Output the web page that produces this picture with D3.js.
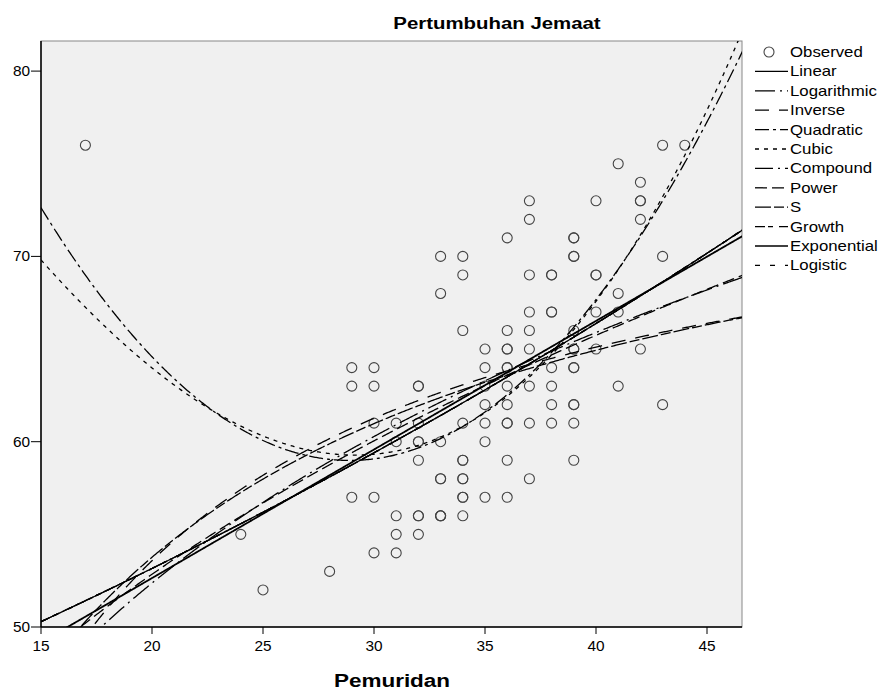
<!DOCTYPE html>
<html>
<head>
<meta charset="utf-8">
<script src="https://cdn.jsdelivr.net/npm/d3@7"></script>
<style>
  body { margin: 0; background: #fff; }
  text { font-family: "Liberation Sans", Arial, sans-serif; fill: #000; }
</style>
</head>
<body>
<svg id="chart" width="879" height="693"></svg>
<script>
// observed cases, grouped by Pemuridan value
var pemuridan = [17, 24, 25, 28,
  29,29,29, 30,30,30,30,30, 31,31,31,31,31,
  32,32,32,32,32,32,32,32,32, 33,33,33,33,33,33,33,33,
  34,34,34,34,34,34,34,34,34,34,34, 35,35,35,35,35,35,35,
  36,36,36,36,36,36,36,36,36,36,36,36, 37,37,37,37,37,37,37,37,37,
  38,38,38,38,38,38,38,38, 39,39,39,39,39,39,39,39,39,39,39,39,39,
  40,40,40,40,40, 41,41,41,41, 42,42,42,42,42, 43,43,43, 44];
var jemaat = [76, 55, 52, 53,
  64,63,57, 64,63,61,57,54, 61,60,56,55,54,
  63,63,61,60,60,59,56,56,55, 70,68,60,58,58,56,56,56,
  70,69,66,61,59,59,58,58,57,57,56, 65,64,63,62,61,60,57,
  71,66,65,65,64,64,63,62,61,61,59,57, 73,72,69,67,66,65,63,61,58,
  69,69,67,67,64,63,62,61, 71,71,70,70,66,65,65,64,64,62,62,61,59,
  73,69,69,67,65, 75,68,67,63, 74,73,73,72,65, 76,70,62, 76];

var xTicks = [15, 20, 25, 30, 35, 40, 45];
var yTicks = [50, 60, 70, 80];
var legendNames = ["Linear", "Logarithmic", "Inverse", "Quadratic", "Cubic", "Compound",
  "Power", "S", "Growth", "Exponential", "Logistic"];

// model coefficients (curve estimation)
var linearCoef = [38.7611, 0.693908];
var logCoef = [-6.07292, 19.50847];
var inverseCoef = [76.63238, -461.0982];
var quadCoef = [117.93009, -4.078036, 0.0705378];
var cubicCoef = [94.82198, -1.828946, 0, 0.000717416];  // x^2 term dropped
var expCoef = [3.751202, 0.01110437];   // ln y = b0 + b1 x  (compound, growth, exponential, logistic)
var powerCoef = [3.023858, 0.3149608];  // ln y = b0 + b1 ln x
var sCoef = [4.362197, -7.551710];      // ln y = b0 + b1 / x

function expModel(x) { return Math.exp(expCoef[0] + expCoef[1] * x); }

var curveFns = [
  function(x) { return linearCoef[0] + linearCoef[1] * x; },
  function(x) { return logCoef[0] + logCoef[1] * Math.log(x); },
  function(x) { return inverseCoef[0] + inverseCoef[1] / x; },
  function(x) { return quadCoef[0] + quadCoef[1] * x + quadCoef[2] * x * x; },
  function(x) { return cubicCoef[0] + cubicCoef[1] * x + cubicCoef[2] * x * x + cubicCoef[3] * x * x * x; },
  expModel,
  function(x) { return Math.exp(powerCoef[0] + powerCoef[1] * Math.log(x)); },
  function(x) { return Math.exp(sCoef[0] + sCoef[1] / x); },
  expModel,
  expModel,
  expModel
];
var dashes = ["", "20,5,2,5", "14,10", "14,4,3,4", "4,5", "18,5,2,5", "12,5", "16,3,10,3", "10,3,5,6", "", "5,10"];

var svg = d3.select('#chart');
var pLeft = 41, pRight = 742, pTop = 41, pBottom = 627;

var x = d3.scaleLinear().domain([15, 15 + (pRight - pLeft) / 22.2]).range([pLeft, pRight]);
var y = d3.scaleLinear().domain([50, 50 + (pBottom - pTop) / 18.53]).range([pBottom, pTop]);

svg.append('defs').append('clipPath').attr('id', 'plotclip')
  .append('rect').attr('x', pLeft).attr('y', pTop).attr('width', pRight - pLeft).attr('height', pBottom - pTop);

svg.append('rect').attr('x', pLeft).attr('y', pTop).attr('width', pRight - pLeft).attr('height', pBottom - pTop)
  .attr('fill', '#f0f0f0').attr('stroke', '#888').attr('stroke-width', 1);

// points
svg.append('g').selectAll('circle').data(pemuridan).enter().append('circle')
  .attr('cx', function(d) { return x(d); })
  .attr('cy', function(d, i) { return y(jemaat[i]); })
  .attr('r', 5)
  .attr('fill', 'none').attr('stroke', '#444').attr('stroke-width', 1.1);

// fit lines
var xs = d3.range(15, x.domain()[1] + 0.05, 0.05);
var line = d3.line().x(function(d) { return x(d[0]); }).y(function(d) { return y(d[1]); });
var curves = svg.append('g').attr('clip-path', 'url(#plotclip)');
curveFns.forEach(function(fn, i) {
  curves.append('path')
    .attr('d', line(xs.map(function(v) { return [v, fn(v)]; })))
    .attr('fill', 'none').attr('stroke', '#000')
    .attr('stroke-width', i === 0 ? 1.8 : 1.3)
    .attr('stroke-dasharray', dashes[i] || null);
});

// axes
svg.append('line').attr('x1', pLeft).attr('x2', pLeft).attr('y1', pTop).attr('y2', pBottom).attr('stroke', '#000').attr('stroke-width', 1.5);
svg.append('line').attr('x1', pLeft).attr('x2', pRight).attr('y1', pBottom).attr('y2', pBottom).attr('stroke', '#000').attr('stroke-width', 1.5);

xTicks.forEach(function(t) {
  svg.append('line').attr('x1', x(t)).attr('x2', x(t)).attr('y1', pBottom).attr('y2', pBottom + 7).attr('stroke', '#000');
  svg.append('text').attr('text-anchor', 'middle').attr('font-size', 14)
    .attr('transform', 'translate(' + x(t) + ',' + (pBottom + 24) + ') scale(1.1,1)').text(t);
});
yTicks.forEach(function(t) {
  svg.append('line').attr('x1', pLeft - 10).attr('x2', pLeft).attr('y1', y(t)).attr('y2', y(t)).attr('stroke', '#000');
  svg.append('text').attr('text-anchor', 'end').attr('font-size', 14)
    .attr('transform', 'translate(' + (pLeft - 11) + ',' + (y(t) + 5) + ') scale(1.1,1)').text(t);
});

svg.append('text').attr('text-anchor', 'middle').attr('font-size', 17).attr('font-weight', 'bold')
  .attr('transform', 'translate(497,29) scale(1.2,1)').text('Pertumbuhan Jemaat');
svg.append('text').attr('text-anchor', 'middle').attr('font-size', 18).attr('font-weight', 'bold')
  .attr('transform', 'translate(392,687) scale(1.25,1)').text('Pemuridan');

// legend
var leg = svg.append('g');
leg.append('circle').attr('cx', 769).attr('cy', 52).attr('r', 5).attr('fill', 'none').attr('stroke', '#444').attr('stroke-width', 1.1);
leg.append('text').attr('font-size', 14).attr('transform', 'translate(790,57) scale(1.2,1)').text('Observed');
legendNames.forEach(function(name, i) {
  var ly = 71.4 + i * 19.4;
  leg.append('line').attr('x1', 755).attr('x2', 788).attr('y1', ly).attr('y2', ly)
    .attr('stroke', '#000').attr('stroke-width', 1.3).attr('stroke-dasharray', dashes[i] || null);
  leg.append('text').attr('font-size', 14).attr('transform', 'translate(790,' + (ly + 5) + ') scale(1.2,1)').text(name);
});
</script>
</body>
</html>
